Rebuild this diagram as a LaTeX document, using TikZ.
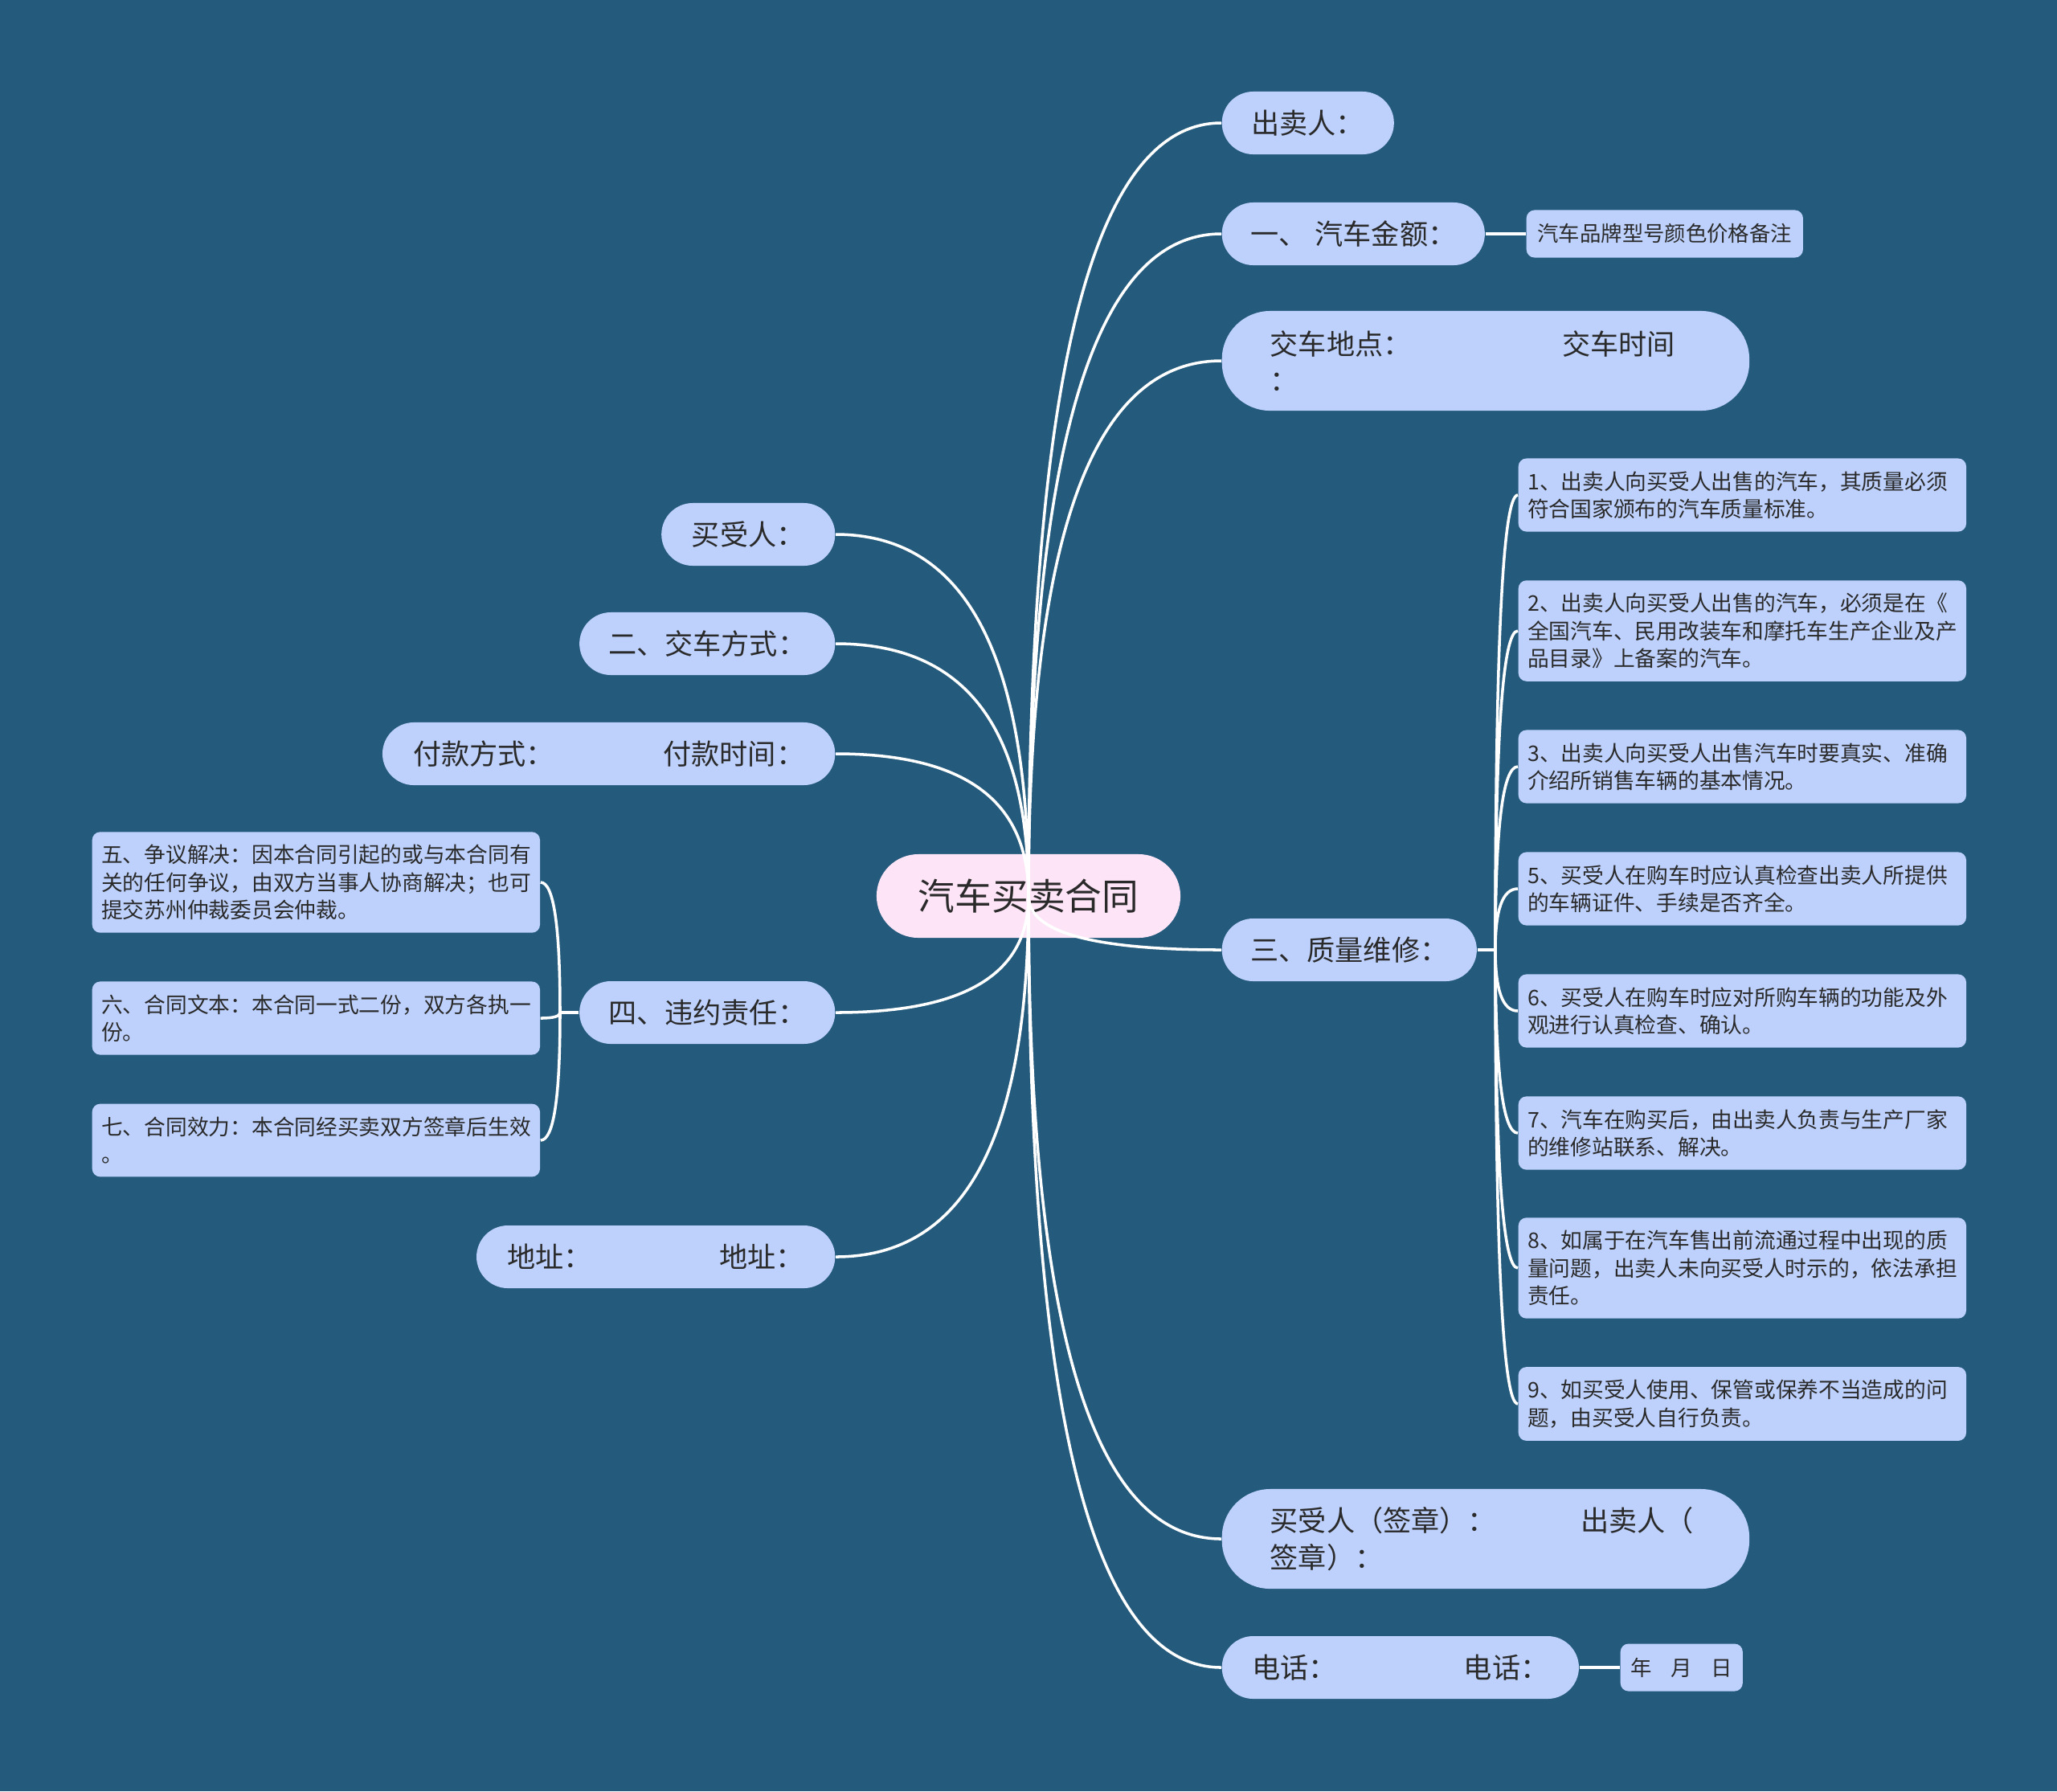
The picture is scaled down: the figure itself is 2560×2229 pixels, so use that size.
\documentclass[tikz,border=0pt]{standalone}
\usepackage{fontspec}
\setmainfont{Noto Sans CJK SC}
\usetikzlibrary{calc}

\definecolor{bgblue}{HTML}{245A7C}
\definecolor{topicblue}{HTML}{BDD1FC}
\definecolor{rootpink}{HTML}{FDE5F7}
\definecolor{inkgray}{HTML}{2A2A2A}

\tikzset{
        mainbox/.style={fill=rootpink, text=inkgray, rounded corners=0.52cm, minimum width=3.78cm, minimum height=1.04cm, font=\fontsize{13}{15}\selectfont},
        topic/.style={fill=topicblue, text=inkgray, rounded corners=0.39cm, minimum height=0.78cm, inner xsep=0.3cm, font=\fontsize{10}{13}\selectfont},
        tallbox/.style={topic, rounded corners=0.6cm, minimum height=1.24cm, inner xsep=0.6cm, text width=5.36cm, align=left},
        notebox/.style={fill=topicblue, text=inkgray, rounded corners=0.1cm, inner xsep=0.115cm, inner ysep=0.16cm, text width=5.34cm, align=left, font=\fontsize{7.6}{9.75}\selectfont},
        tagbox/.style={fill=topicblue, text=inkgray, rounded corners=0.1cm, minimum height=0.59cm, font=\fontsize{7.5}{9}\selectfont},
        wire/.style={draw=white, line width=1pt},
        swoop/.style={to path={.. controls ($(\tikztostart)!0.67!(\tikztostart |- \tikztotarget)$) and ($(\tikztotarget)!0.67!(\tikztostart |- \tikztotarget)$) .. (\tikztotarget)}}
}

\begin{document}
\begin{tikzpicture}[x=0.01cm, y=-0.01cm]
        \fill[bgblue] (0,0) rectangle (2560,2229);

        \node[mainbox] (contract) at (1280,1115) {汽车买卖合同};

        \node[topic, anchor=west, minimum width=2.14cm] (seller) at (1520,153) {出卖人：};
        \node[topic, anchor=west, minimum width=3.27cm] (price) at (1520,291) {一、\hspace{0.1cm}汽车金额：};
        \node[tagbox, anchor=west, minimum width=3.44cm] (model) at (1899,291) {汽车品牌型号颜色价格备注};
        \node[tallbox, anchor=west] (place) at (1520,449) {交车地点：\hspace{1.875cm}交车时间\\：};
        \node[topic, anchor=west, minimum width=3.17cm] (quality) at (1520,1182) {三、质量维修：};
        \node[tallbox, anchor=west] (sign) at (1520,1915) {买受人（签章）：\hspace{1.05cm}出卖人（\\签章）：};
        \node[topic, anchor=west, minimum width=4.44cm] (phone) at (1520,2075) {电话：\hspace{1.58cm}电话：};
        \node[tagbox, anchor=west, minimum width=1.52cm] (date) at (2016,2075) {年\hspace{0.24cm}月\hspace{0.24cm}日};

        \node[notebox, anchor=west] (q1) at (1889,616) {1、出卖人向买受人出售的汽车，其质量必须\\符合国家颁布的汽车质量标准。};
        \node[notebox, anchor=west] (q2) at (1889,785) {2、出卖人向买受人出售的汽车，必须是在《\\全国汽车、民用改装车和摩托车生产企业及产\\品目录》上备案的汽车。};
        \node[notebox, anchor=west] (q3) at (1889,954) {3、出卖人向买受人出售汽车时要真实、准确\\介绍所销售车辆的基本情况。};
        \node[notebox, anchor=west] (q5) at (1889,1106) {5、买受人在购车时应认真检查出卖人所提供\\的车辆证件、手续是否齐全。};
        \node[notebox, anchor=west] (q6) at (1889,1258) {6、买受人在购车时应对所购车辆的功能及外\\观进行认真检查、确认。};
        \node[notebox, anchor=west] (q7) at (1889,1410) {7、汽车在购买后，由出卖人负责与生产厂家\\的维修站联系、解决。};
        \node[notebox, anchor=west] (q8) at (1889,1578) {8、如属于在汽车售出前流通过程中出现的质\\量问题，出卖人未向买受人时示的，依法承担\\责任。};
        \node[notebox, anchor=west] (q9) at (1889,1747) {9、如买受人使用、保管或保养不当造成的问\\题，由买受人自行负责。};

        \node[topic, anchor=east, minimum width=2.16cm] (buyer) at (1040,665) {买受人：};
        \node[topic, anchor=east, minimum width=3.18cm] (delivery) at (1040,801) {二、交车方式：};
        \node[topic, anchor=east, minimum width=5.63cm] (payment) at (1040,938) {付款方式：\hspace{1.355cm}付款时间：};
        \node[topic, anchor=east, minimum width=3.18cm] (breach) at (1040,1260) {四、违约责任：};
        \node[topic, anchor=east, minimum width=4.46cm] (address) at (1040,1564) {地址：\hspace{1.58cm}地址：};

        \node[notebox, anchor=west] (b5) at (114,1098) {五、争议解决：因本合同引起的或与本合同有\\关的任何争议，由双方当事人协商解决；也可\\提交苏州仲裁委员会仲裁。};
        \node[notebox, anchor=west] (b6) at (114,1267) {六、合同文本：本合同一式二份，双方各执一\\份。};
        \node[notebox, anchor=west] (b7) at (114,1419) {七、合同效力：本合同经买卖双方签章后生效\\。};

        \coordinate (qhub) at (1861,1182);
        \coordinate (bhub) at (697,1260);

        \draw[wire] (contract.center) to[swoop] (seller.west);
        \draw[wire] (contract.center) to[swoop] (price.west);
        \draw[wire] (contract.center) to[swoop] (place.west);
        \draw[wire] (contract.center) to[swoop] (quality.west);
        \draw[wire] (contract.center) to[swoop] (sign.west);
        \draw[wire] (contract.center) to[swoop] (phone.west);
        \draw[wire] (contract.center) to[swoop] (buyer.east);
        \draw[wire] (contract.center) to[swoop] (delivery.east);
        \draw[wire] (contract.center) to[swoop] (payment.east);
        \draw[wire] (contract.center) to[swoop] (breach.east);
        \draw[wire] (contract.center) to[swoop] (address.east);

        \draw[wire] (price.east) -- (model.west);
        \draw[wire] (phone.east) -- (date.west);

        \draw[wire] (quality.east) -- (qhub);
        \draw[wire] (qhub) to[swoop] (q1.west);
        \draw[wire] (qhub) to[swoop] (q2.west);
        \draw[wire] (qhub) to[swoop] (q3.west);
        \draw[wire] (qhub) to[swoop] (q5.west);
        \draw[wire] (qhub) to[swoop] (q6.west);
        \draw[wire] (qhub) to[swoop] (q7.west);
        \draw[wire] (qhub) to[swoop] (q8.west);
        \draw[wire] (qhub) to[swoop] (q9.west);

        \draw[wire] (breach.west) -- (bhub);
        \draw[wire] (bhub) to[swoop] (b5.east);
        \draw[wire] (bhub) to[swoop] (b6.east);
        \draw[wire] (bhub) to[swoop] (b7.east);
\end{tikzpicture}
\end{document}
